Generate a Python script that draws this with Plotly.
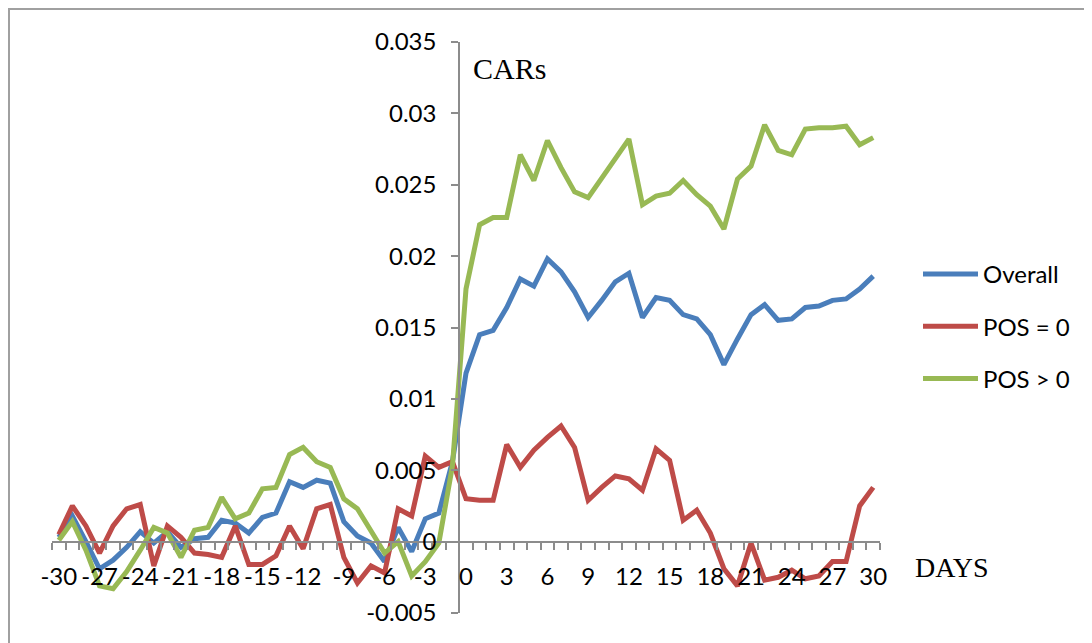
import plotly.graph_objects as go

days = list(range(-30, 31))

overall = [0.0003, 0.0018, 0.0000, -0.0019, -0.0013, -0.0004, 0.0007, -0.0001, 0.0007, -0.0004,
           0.0002, 0.0003, 0.0015, 0.0013, 0.0006, 0.0017, 0.0020, 0.0042, 0.0038, 0.0043,
           0.0041, 0.0014, 0.0004, -0.0001, -0.0014, 0.0010, -0.0007, 0.0016, 0.0020, 0.0056,
           0.0118,
           0.0145, 0.0148, 0.0164, 0.0184, 0.0179, 0.0198, 0.0189, 0.0175, 0.0157, 0.0169,
           0.0182, 0.0188, 0.0157, 0.0171, 0.0169, 0.0159, 0.0156, 0.0145, 0.0124, 0.0142,
           0.0159, 0.0166, 0.0155, 0.0156, 0.0164, 0.0165, 0.0169, 0.0170, 0.0177, 0.0186]

pos_eq0 = [0.0005, 0.0025, 0.0011, -0.0008, 0.0011, 0.0023, 0.0026, -0.0017, 0.0011, 0.0003,
           -0.0008, -0.0009, -0.0011, 0.0011, -0.0016, -0.0016, -0.0010, 0.0011, -0.0005, 0.0023,
           0.0026, -0.0011, -0.0029, -0.0017, -0.0022, 0.0023, 0.0018, 0.0060, 0.0052, 0.0056,
           0.0030,
           0.0029, 0.0029, 0.0068, 0.0052, 0.0064, 0.0073, 0.0081, 0.0066, 0.0029, 0.0038,
           0.0046, 0.0044, 0.0036, 0.0065, 0.0057, 0.0015, 0.0022, 0.0006, -0.0019, -0.0031,
           -0.0001, -0.0027, -0.0025, -0.0020, -0.0026, -0.0024, -0.0014, -0.0014, 0.0025, 0.0038]

pos_gt0 = [0.0001, 0.0014, -0.0006, -0.0031, -0.0033, -0.0021, -0.0006, 0.0010, 0.0006, -0.0011,
           0.0008, 0.0010, 0.0031, 0.0016, 0.0020, 0.0037, 0.0038, 0.0061, 0.0066, 0.0056,
           0.0052, 0.0030, 0.0023, 0.0008, -0.0008, 0.0000, -0.0024, -0.0014, -0.0001, 0.0053,
           0.0177,
           0.0222, 0.0227, 0.0227, 0.0271, 0.0253, 0.0281, 0.0262, 0.0245, 0.0241, 0.0255,
           0.0269, 0.0282, 0.0236, 0.0242, 0.0244, 0.0253, 0.0243, 0.0235, 0.0219, 0.0254,
           0.0263, 0.0292, 0.0274, 0.0271, 0.0289, 0.0290, 0.0290, 0.0291, 0.0278, 0.0283]

series_names = ["Overall", "POS = 0", "POS > 0"]
series_colors = ["#4A7EBB", "#BE4B48", "#98B954"]

x_tick_vals = list(range(-30, 31, 3))
x_tick_text = [str(v) for v in x_tick_vals]
x_minor_vals = [d - 0.5 for d in days] + [30.5]
y_tick_vals = [-0.005, 0, 0.005, 0.01, 0.015, 0.02, 0.025, 0.03, 0.035]
y_tick_text = ["-0.005", "0", "0.005", "0.01", "0.015", "0.02", "0.025", "0.03", "0.035"]

Y_MIN, Y_MAX = -0.005, 0.035
X_MIN, X_MAX = -30.5, 30.5

# page offset of the plot div (default body margin)
OX, OY = 8, 8
L, T, PW, PH = 52 - OX, 42 - OY, 828, 571
FIG_W, FIG_H = 1084, 635


def px(xp):
    return (xp - OX - L) / PW


def py(yp):
    return (T + PH - (yp - OY)) / PH


fig = go.Figure()
for name, vals, col in zip(series_names, [overall, pos_eq0, pos_gt0], series_colors):
    fig.add_trace(go.Scatter(x=days, y=vals, mode="lines", name=name, legendgroup=name,
                             line=dict(color=col, width=5)))

AXIS_COL = "#8C8C8C"
TICK_FONT = dict(family="Lato", size=24, color="#000000")

fig.update_layout(
    width=FIG_W, height=FIG_H,
    margin=dict(l=L, r=FIG_W - L - PW, t=T, b=FIG_H - T - PH),
    paper_bgcolor="white", plot_bgcolor="white",
    showlegend=True,
    legend=dict(x=px(918), y=py(252), xanchor="left", yanchor="top",
                font=dict(family="Lato", size=24, color="#000000"),
                itemwidth=55, tracegroupgap=18, bgcolor="rgba(0,0,0,0)"),
    xaxis=dict(range=[X_MIN, X_MAX], domain=[0, 1], anchor="free",
               position=(0 - Y_MIN) / (Y_MAX - Y_MIN),
               showline=True, linecolor=AXIS_COL, linewidth=2,
               showgrid=False, zeroline=False,
               tickmode="array", tickvals=x_tick_vals, ticktext=x_tick_text,
               ticks="", ticklabelstandoff=14, tickfont=TICK_FONT,
               minor=dict(tickmode="array", tickvals=x_minor_vals, ticks="outside",
                          ticklen=7, tickwidth=2, tickcolor=AXIS_COL, showgrid=False)),
    yaxis=dict(range=[Y_MIN, Y_MAX], domain=[0, 1], anchor="free",
               position=(-0.5 - X_MIN) / (X_MAX - X_MIN),
               showline=True, linecolor=AXIS_COL, linewidth=2,
               showgrid=False, zeroline=False,
               tickmode="array", tickvals=y_tick_vals, ticktext=y_tick_text,
               ticks="outside", ticklen=7, tickwidth=2, tickcolor=AXIS_COL,
               ticklabelstandoff=10, tickfont=TICK_FONT),
    annotations=[
        dict(text="CARs", xref="paper", yref="paper", x=px(471), y=py(68),
             xanchor="left", yanchor="middle", showarrow=False,
             font=dict(family="Liberation Serif", size=30, color="#000000")),
        dict(text="DAYS", xref="paper", yref="paper", x=px(913), y=py(567),
             xanchor="left", yanchor="middle", showarrow=False,
             font=dict(family="Liberation Serif", size=28, color="#000000")),
    ],
    shapes=[
        dict(type="rect", xref="paper", yref="paper",
             x0=px(9), x1=px(1085), y0=py(660), y1=py(9),
             line=dict(color="#A0A0A0", width=2), fillcolor="rgba(0,0,0,0)", layer="below"),
    ],
)

fig.write_html("out.html")
